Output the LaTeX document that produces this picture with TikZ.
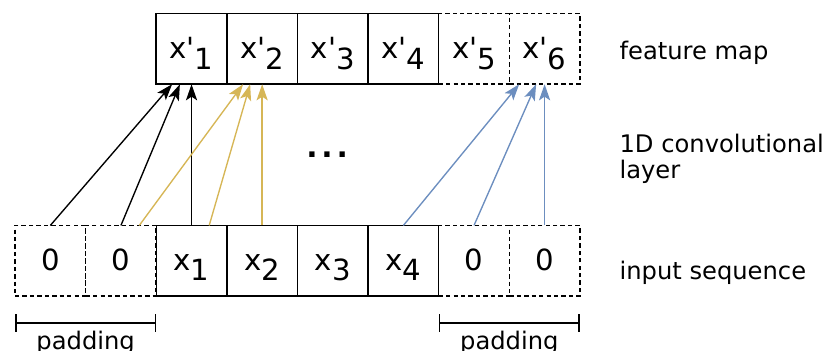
\documentclass[tikz,border=0pt]{standalone}
\usepackage{fontspec}
\setmainfont{DejaVu Sans}
\usetikzlibrary{arrows.meta}

\definecolor{kernelY}{HTML}{D6B656}
\definecolor{kernelB}{HTML}{6C8EBF}

\newcommand{\lowidx}[1]{\raisebox{-0.37em}{#1}}
\newcommand{\xin}[1]{x\lowidx{#1}}
\newcommand{\xout}[1]{x\textquotesingle\lowidx{#1}}

\tikzset{
  cell/.style={draw, line width=1.2pt, minimum width=2cm, minimum height=2cm,
    inner sep=0pt, outer sep=0pt, text height=15pt, text depth=0pt,
    font=\fontsize{23.5}{26}\selectfont},
  padcell/.style={cell, fill=white, dash pattern=on 3.5pt off 2.5pt},
  sidetext/.style={anchor=base west, align=left, font=\fontsize{19.5}{21}\selectfont},
  conv/.style={-{Stealth[length=13pt,width=9pt,inset=3pt]}, line width=1.1pt},
  padbar/.style={{Bar[width=0.5cm]}-{Bar[width=0.5cm]}, line width=1.3pt}
}

\begin{document}
\begin{tikzpicture}
\useasboundingbox (-0.425,-1.53) rectangle (22.97,8.386);

\node[cell] (in2) at (5,1) {\xin{1}};
\node[cell] (in3) at (7,1) {\xin{2}};
\node[cell] (in4) at (9,1) {\xin{3}};
\node[cell] (in5) at (11,1) {\xin{4}};
\node[padcell] (in0) at (1,1) {0};
\node[padcell] (in1) at (3,1) {0};
\node[padcell] (in6) at (13,1) {0};
\node[padcell] (in7) at (15,1) {0};

\node[cell] (out1) at (5,7) {\xout{1}};
\node[cell] (out2) at (7,7) {\xout{2}};
\node[cell] (out3) at (9,7) {\xout{3}};
\node[cell] (out4) at (11,7) {\xout{4}};
\node[padcell] (out5) at (13,7) {\xout{5}};
\node[padcell] (out6) at (15,7) {\xout{6}};

\draw[conv] (in0.north) -- ([xshift=-0.55cm]out1.south);
\draw[conv] (in1.north) -- ([xshift=-0.33cm]out1.south);
\draw[conv] (in2.north) -- (out1.south);

\draw[conv, kernelY] ([xshift=0.52cm]in1.north) -- ([xshift=-0.54cm]out2.south);
\draw[conv, kernelY] ([xshift=0.5cm]in2.north) -- ([xshift=-0.34cm]out2.south);
\draw[conv, kernelY] (in3.north) -- (out2.south);

\draw[conv, kernelB] (in5.north) -- ([xshift=-0.72cm]out6.south);
\draw[conv, kernelB] (in6.north) -- ([xshift=-0.24cm]out6.south);
\draw[conv, kernelB] (in7.north) -- (out6.south);

\node[font=\bfseries\fontsize{24}{24}\selectfont] (dots) at (8.84,4.0) {.\kern3pt.\kern3pt.};

\node[sidetext] (fmap) at (17.0,6.71) {feature map};
\node[sidetext] (layer) at (17.0,3.34) {1D convolutional\\layer};
\node[sidetext] (seq) at (17.0,0.47) {input sequence};

\draw[padbar] ([yshift=-0.765cm]in0.south west) -- ([yshift=-0.765cm]in1.south east);
\draw[padbar] ([yshift=-0.765cm]in6.south west) -- ([yshift=-0.765cm]in7.south east);
\node[anchor=base, font=\fontsize{19.5}{19.5}\selectfont] (padL) at (2,-1.50) {padding};
\node[anchor=base, font=\fontsize{19.5}{19.5}\selectfont] (padR) at (14,-1.50) {padding};
\end{tikzpicture}
\end{document}
